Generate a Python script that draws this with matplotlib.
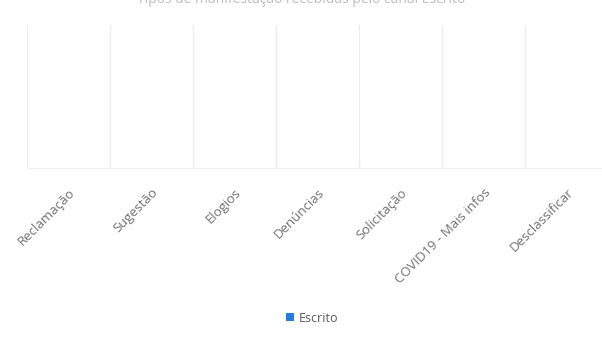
import matplotlib.pyplot as plt

categorias = ['Reclamação', 'Sugestão', 'Elogios', 'Denúncias', 'Solicitação',
              'COVID19 - Mais infos', 'Desclassificar']
escrito = [0, 0, 0, 0, 0, 0, 0]

fig = plt.figure(figsize=(6.02, 3.57), dpi=100)
plt.rcParams['font.family'] = ['Open Sans', 'DejaVu Sans']

# axes extends a little past the right edge, like the cropped screenshot
ax = fig.add_axes([27 / 602, 1 - 168 / 357, 581 / 602, 143 / 357])
x = range(len(categorias))
bars = ax.bar(x, escrito, width=0.6, color='#2a7bd5', label='Escrito')

ax.set_xlim(-0.5, len(categorias) - 0.5)
ax.set_ylim(0, 1)
ax.set_xticks(list(x))
ax.set_xticklabels(categorias, rotation=45, ha='right', rotation_mode='anchor',
                   fontsize=9.5, color='#707070')
ax.tick_params(axis='x', length=0, pad=13)
ax.set_yticks([])

# faint lines between categories
ax.set_xticks([i - 0.5 for i in x], minor=True)
ax.tick_params(axis='x', which='minor', length=0)
ax.grid(True, axis='x', which='minor', color='#ededed', linewidth=1)
for s in ax.spines.values():
    s.set_visible(False)
ax.spines['bottom'].set_visible(True)
ax.spines['bottom'].set_color('#f0f0f0')

# title is cut off at the top of the screenshot
fig.text(0.5, 1 - 3 / 357, 'Tipos de manifestação recebidas pelo canal Escrito',
         ha='center', va='baseline', fontsize=10, color='#bdbdbd')

fig.legend(handles=[bars], labels=['Escrito'], loc='center',
           bbox_to_anchor=(312 / 602, 1 - 318 / 357), frameon=False,
           fontsize=9, handlelength=0.6, handleheight=0.6, handletextpad=0.4,
           labelcolor='#595959')

fig.savefig('out.png', dpi=100, facecolor='white')
